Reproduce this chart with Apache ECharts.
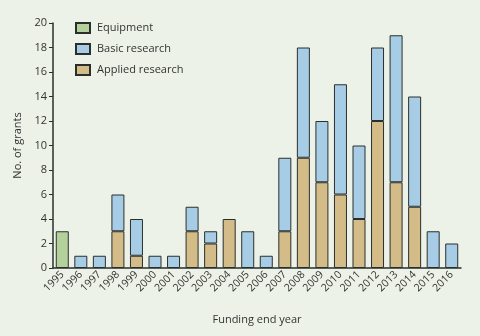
<!DOCTYPE html>
<html><head><meta charset="utf-8">
<script src="https://cdn.jsdelivr.net/npm/echarts@6/dist/echarts.min.js"></script>
<style>html,body{margin:0;padding:0;background:#edf2e8;}#c{width:480px;height:336px;}</style>
</head><body><div id="c"></div>
<script>
const years = ['1995','1996','1997','1998','1999','2000','2001','2002','2003','2004','2005','2006','2007','2008','2009','2010','2011','2012','2013','2014','2015','2016'];
const equipment = [3,0,0,0,0,0,0,0,0,0,0,0,0,0,0,0,0,0,0,0,0,0];
const applied   = [0,0,0,3,1,0,0,3,2,4,0,0,3,9,7,6,4,12,7,5,0,0];
const basic     = [0,1,1,3,3,1,1,2,1,0,3,1,6,9,5,9,6,6,12,9,3,2];
const yTicks = [0,2,4,6,8,10,12,14,16,18,20];

const font = 'Open Sans';
const txt = '#333';
const bw = 13;
function ser(name, data, color){
  return {name, type:'bar', stack:'t', data:data.map(v=>v===0?null:v), barWidth:bw,
    itemStyle:{color, borderColor:'#2b2f2c', borderWidth:1}};
}
const chart = echarts.init(document.getElementById('c'));
chart.setOption({
  backgroundColor:'#edf2e8',
  animation:false,
  textStyle:{fontFamily:font},
  grid:{left:53, right:19, top:23, bottom:68},
  legend:{orient:'vertical', left:70, top:17, itemGap:9, itemWidth:14, itemHeight:10, icon:'rect',
    textStyle:{fontFamily:font, fontSize:11, color:txt, padding:[0,0,0,2]},
    data:['Equipment','Basic research','Applied research']},
  xAxis:{type:'category', data:years, name:'Funding end year', nameLocation:'middle', nameGap:46,
    nameTextStyle:{fontFamily:font, fontSize:11, color:txt},
    axisLine:{lineStyle:{color:'#2b2f2c', width:1.5}}, axisTick:{show:false},
    axisLabel:{rotate:45, fontSize:10.5, color:txt, fontFamily:font, margin:5, interval:0}},
  yAxis:{type:'value', min:0, max:20, interval:2, name:'No. of grants', nameLocation:'middle', nameGap:26,
    nameTextStyle:{fontFamily:font, fontSize:11, color:txt},
    axisLine:{show:true, lineStyle:{color:'#2b2f2c', width:1.5}},
    axisTick:{show:true, length:4, lineStyle:{color:'#2b2f2c'}},
    splitLine:{show:false},
    axisLabel:{fontSize:11, color:txt, fontFamily:font, margin:6,
      formatter:v=>yTicks.includes(v)?String(v):''}},
  series:[
    ser('Equipment', equipment, '#b5d19b'),
    ser('Applied research', applied, '#d3bc87'),
    ser('Basic research', basic, '#a7cde6')
  ]
});
</script></body></html>
